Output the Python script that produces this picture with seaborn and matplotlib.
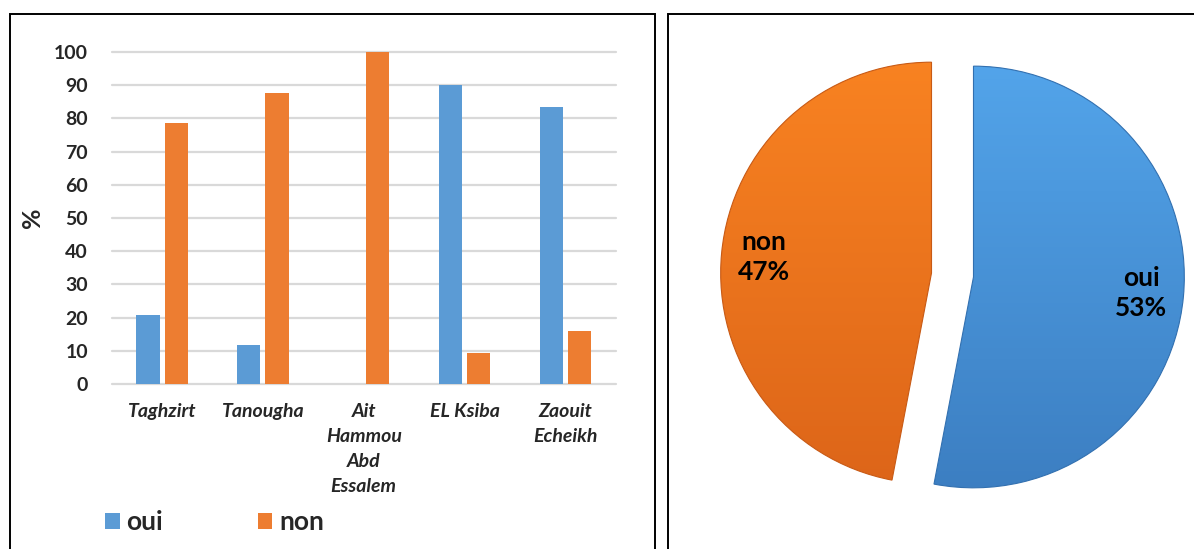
import numpy as np
import pandas as pd
import matplotlib
matplotlib.use("Agg")
import matplotlib.pyplot as plt
import seaborn as sns
from matplotlib.colors import LinearSegmentedColormap
from matplotlib.patches import Rectangle

# données
communes = ["Taghzirt", "Tanougha", "Ait\nHammou\nAbd\nEssalem", "EL Ksiba", "Zaouit\nEcheikh"]
oui = [20.9, 11.8, 0, 90.2, 83.5]
non = [78.7, 87.8, 100, 9.4, 16.1]
reponses = ["oui", "non"]
pie_pct = [53, 47]
yticks = [0, 10, 20, 30, 40, 50, 60, 70, 80, 90, 100]

BLUE = "#5B9BD5"
ORANGE = "#ED7D31"

sns.set_theme(style="white")
plt.rcParams["font.family"] = ["Lato", "DejaVu Sans"]
plt.rcParams["font.weight"] = "bold"

df = pd.DataFrame({
    "commune": communes * 2,
    "reponse": ["oui"] * len(communes) + ["non"] * len(communes),
    "pct": oui + non,
})

fig = plt.figure(figsize=(11.94, 5.49), dpi=100)

# cadres des deux panneaux
for x0, x1 in [(10, 655), (668, 1230)]:
    fig.patches.append(Rectangle((x0 / 1194, -0.1), (x1 - x0) / 1194, (549 - 14) / 549 + 0.1,
                                 transform=fig.transFigure, fill=False,
                                 edgecolor="black", linewidth=1.4))

# --- diagramme en barres ---
ax = fig.add_axes([111.7 / 1194, (549 - 384) / 549, 504 / 1194, 332 / 549])
sns.barplot(data=df, x="commune", y="pct", hue="reponse", hue_order=reponses,
            palette=[BLUE, ORANGE], saturation=1, width=0.56, gap=0.18,
            linewidth=0, ax=ax)
ax.set_ylim(0, 100)
ax.set_xlim(-0.5, len(communes) - 0.5)
ax.set_yticks(yticks)
ax.yaxis.grid(True, color="#D9D9D9", linewidth=1.6)
for gl in ax.get_ygridlines():
    gl.set_clip_on(False)
ax.set_axisbelow(True)
for s in ax.spines.values():
    s.set_visible(False)
ax.tick_params(axis="both", length=0)
ax.tick_params(axis="y", pad=17, labelsize=14)
ax.tick_params(axis="x", pad=14, labelsize=14)
for lbl in ax.get_yticklabels():
    lbl.set_fontweight("bold")
for lbl in ax.get_xticklabels():
    lbl.set_fontweight("bold")
    lbl.set_fontstyle("italic")
    lbl.set_linespacing(1.55)
ax.set_xlabel("")
ax.set_ylabel("%", fontsize=18, fontweight="bold", labelpad=7)

handles, labels = ax.get_legend_handles_labels()
ax.legend(handles, labels, loc="center left", bbox_to_anchor=(92 / 1194, 27 / 549),
          bbox_transform=fig.transFigure, ncol=2, frameon=False, borderpad=0,
          handlelength=0.55, handleheight=0.55, handletextpad=0.25,
          columnspacing=3.6, prop={"size": 19, "weight": "bold"})

# --- diagramme circulaire ---
ax2 = fig.add_axes([699.5 / 1194, (549 - 528) / 549, 506 / 1194, 506 / 549])
wedges, texts, autotexts = ax2.pie(pie_pct, explode=[0.1, 0.1], startangle=90,
                                   counterclock=False, colors=["none", "none"],
                                   autopct="%d%%", pctdistance=0.8,
                                   wedgeprops={"linewidth": 0.8})
grads = [("#3A7BBE", "#55A8EE"), ("#DA6218", "#FB8522")]
edges = ["#3270B0", "#C85A15"]
for w, (c_bot, c_top), ec in zip(wedges, grads, edges):
    cmap = LinearSegmentedColormap.from_list("g", [c_bot, c_top])
    img = ax2.imshow(np.linspace(0, 1, 256).reshape(-1, 1), cmap=cmap, origin="lower",
                     extent=[-1.2, 1.2, -1.2, 1.2], aspect="auto", zorder=1)
    img.set_clip_path(w)
    w.set_zorder(2)
    w.set_edgecolor(ec)
for t, lab, p in zip(autotexts, reponses, pie_pct):
    t.set_text(f"{lab}\n{p}%")
    t.set_fontsize(19)
    t.set_fontweight("bold")
    t.set_color("black")
    t.set_linespacing(1.3)
    t.set_zorder(3)
ax2.set_xlim(-1.2, 1.2)
ax2.set_ylim(-1.2, 1.2)
ax2.set_aspect("equal")
ax2.axis("off")

fig.savefig("out.png", dpi=100)
